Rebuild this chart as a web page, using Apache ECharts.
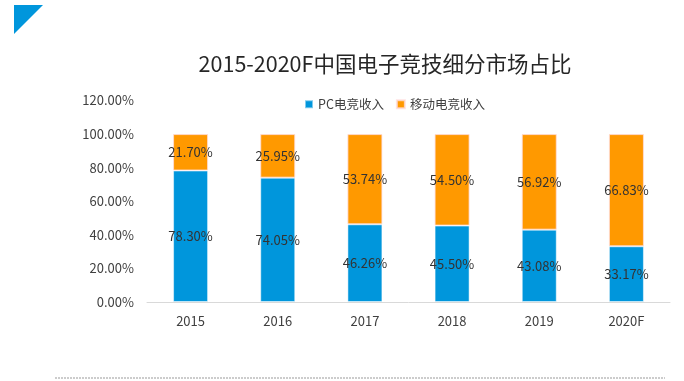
<!DOCTYPE html>
<html><head><meta charset="utf-8">
<script src="https://cdn.jsdelivr.net/npm/echarts@6/dist/echarts.min.js"></script>
<style>html,body{margin:0;padding:0;background:#fff;}#c{width:684px;height:381px;}</style>
</head><body><div id="c"></div>
<script>
const categories = ['2015','2016','2017','2018','2019','2020F'];
const pcShare = [78.30, 74.05, 46.26, 45.50, 43.08, 33.17];
const mobileShare = [21.70, 25.95, 53.74, 54.50, 56.92, 66.83];
const seriesNames = ['PC电竞收入', '移动电竞收入'];
const titleText = '2015-2020F中国电子竞技细分市场占比';

const FONT = '"Noto Sans CJK SC", "Noto Sans", sans-serif';
const chart = echarts.init(document.getElementById('c'), null, {renderer: 'canvas'});
const lbl = {
  show: true, position: 'inside', color: '#333', fontSize: 13, fontFamily: FONT,
  formatter: p => p.value.toFixed(2) + '%'
};
chart.setOption({
  animation: false,
  backgroundColor: '#fff',
  graphic: [
    {type: 'polygon', shape: {points: [[14,5],[43,5],[14,34]]}, style: {fill: '#0096dc'}},
    {type: 'line', shape: {x1: 55, y1: 378, x2: 665, y2: 378},
     style: {stroke: '#999', lineWidth: 1, lineDash: [2, 1]}}
  ],
  title: {
    text: titleText, left: 380, top: 48, textAlign: 'center',
    textStyle: {fontFamily: FONT, fontSize: 21.5, fontWeight: 'normal', color: '#262626'}
  },
  legend: {
    data: seriesNames, top: 93, left: 299, itemWidth: 8, itemHeight: 8, itemGap: 12,
    icon: 'rect',
    textStyle: {fontFamily: FONT, fontSize: 12.5, color: '#404040'}
  },
  grid: {left: 147, right: 14, top: 100.5, bottom: 79},
  xAxis: {
    type: 'category', data: categories,
    axisLine: {lineStyle: {color: '#d9d9d9'}},
    axisTick: {show: false},
    axisLabel: {color: '#404040', fontSize: 13, fontFamily: FONT, margin: 13}
  },
  yAxis: {
    type: 'value', min: 0, max: 120, interval: 20,
    axisLine: {show: false}, axisTick: {show: false}, splitLine: {show: false},
    axisLabel: {color: '#404040', fontSize: 13, fontFamily: FONT, margin: 13,
      formatter: v => v.toFixed(2) + '%'}
  },
  series: [
    {name: seriesNames[0], type: 'bar', stack: 's', data: pcShare, barWidth: 35,
     itemStyle: {color: '#0096dc', borderColor: 'rgba(255,255,255,0.5)', borderWidth: 1}, label: lbl},
    {name: seriesNames[1], type: 'bar', stack: 's', data: mobileShare, barWidth: 35,
     itemStyle: {color: '#ff9900', borderColor: 'rgba(255,220,220,0.8)', borderWidth: 1}, label: lbl}
  ]
});
</script></body></html>
